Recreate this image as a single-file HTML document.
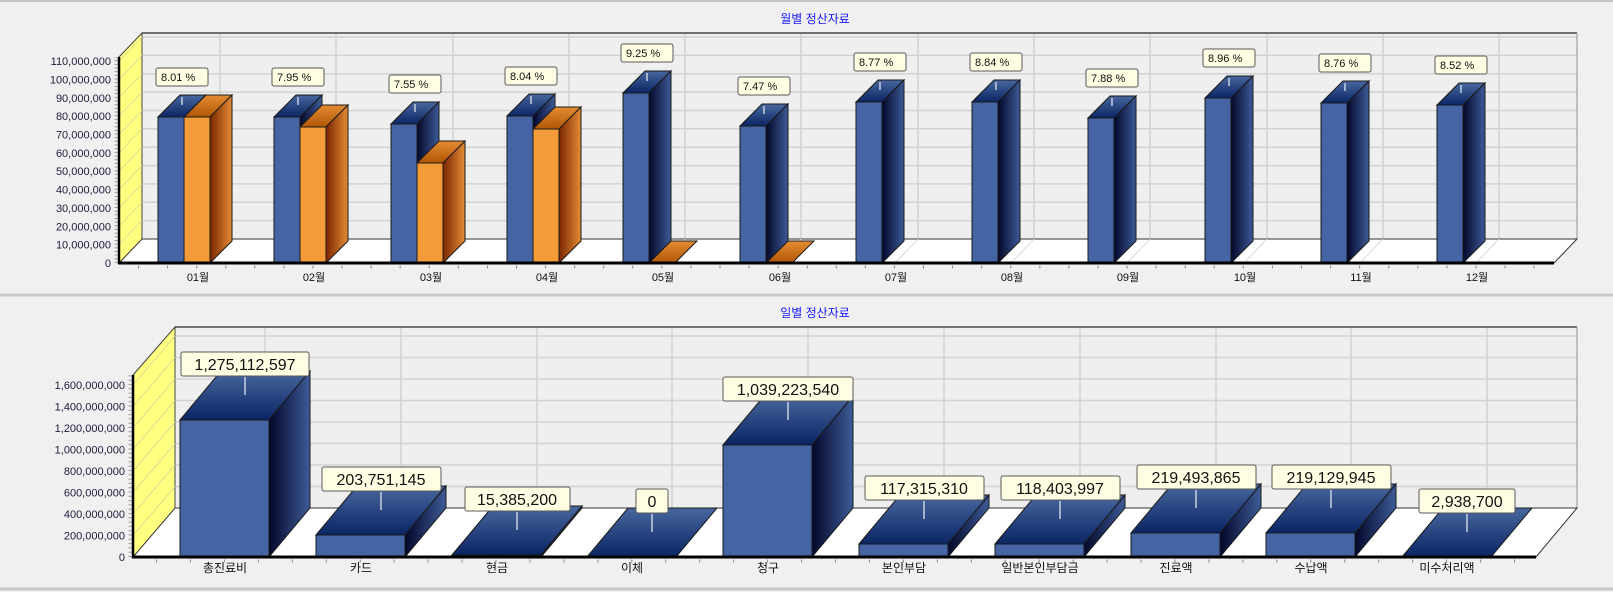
<!DOCTYPE html>
<html><head><meta charset="utf-8"><style>
html,body{margin:0;padding:0;background:#f0f0f0;}
svg{display:block;font-family:"Liberation Sans","Noto Sans CJK KR",sans-serif;}
</style></head><body>
<svg width="1613" height="592" viewBox="0 0 1613 592" xmlns="http://www.w3.org/2000/svg">
<defs>
<linearGradient id="bt" x1="0" y1="0" x2="0" y2="1"><stop offset="0" stop-color="#48679f"/><stop offset="1" stop-color="#0a2564"/></linearGradient>
<linearGradient id="bs" x1="0" y1="0" x2="1" y2="0"><stop offset="0" stop-color="#04072a"/><stop offset="1" stop-color="#3d5b97"/></linearGradient>
<linearGradient id="ot" x1="0" y1="0" x2="0" y2="1"><stop offset="0" stop-color="#e48c32"/><stop offset="1" stop-color="#b05606"/></linearGradient>
<linearGradient id="os" x1="0" y1="0" x2="1" y2="0"><stop offset="0" stop-color="#7a2600"/><stop offset="1" stop-color="#e48c34"/></linearGradient>
</defs>
<rect width="1613" height="592" fill="#f0f0f0"/>
<line x1="0" y1="1" x2="1613" y2="1" stroke="#c4c4c4" stroke-width="2"/>
<line x1="0" y1="295" x2="1613" y2="295" stroke="#c8c8c8" stroke-width="3"/>
<line x1="0" y1="589" x2="1613" y2="589" stroke="#c8c8c8" stroke-width="3"/>

<!-- ============ TOP CHART ============ -->
<text x="815" y="23" font-size="12" fill="#1a1aff" text-anchor="middle">월별 정산자료</text>
<rect x="142" y="33" width="1435" height="206" fill="#efefef"/>
<g stroke="#d2d2d2" stroke-width="1.5">
<line x1="142" y1="220.6" x2="1577" y2="220.6"/><line x1="142" y1="202.3" x2="1577" y2="202.3"/><line x1="142" y1="183.9" x2="1577" y2="183.9"/><line x1="142" y1="165.6" x2="1577" y2="165.6"/><line x1="142" y1="147.2" x2="1577" y2="147.2"/><line x1="142" y1="128.8" x2="1577" y2="128.8"/><line x1="142" y1="110.5" x2="1577" y2="110.5"/><line x1="142" y1="92.1" x2="1577" y2="92.1"/><line x1="142" y1="73.8" x2="1577" y2="73.8"/><line x1="142" y1="55.4" x2="1577" y2="55.4"/><line x1="142" y1="37" x2="1577" y2="37"/>
<line x1="220" y1="33" x2="220" y2="239"/><line x1="336" y1="33" x2="336" y2="239"/><line x1="453" y1="33" x2="453" y2="239"/><line x1="569" y1="33" x2="569" y2="239"/><line x1="685" y1="33" x2="685" y2="239"/><line x1="801" y1="33" x2="801" y2="239"/><line x1="918" y1="33" x2="918" y2="239"/><line x1="1034" y1="33" x2="1034" y2="239"/><line x1="1150" y1="33" x2="1150" y2="239"/><line x1="1267" y1="33" x2="1267" y2="239"/><line x1="1383" y1="33" x2="1383" y2="239"/><line x1="1499" y1="33" x2="1499" y2="239"/>
</g>
<line x1="142" y1="33" x2="1577" y2="33" stroke="#707070" stroke-width="2"/>
<line x1="1577" y1="33" x2="1577" y2="239" stroke="#909090" stroke-width="1"/>
<polygon points="119,263 142,239 1577,239 1554,263" fill="#ffffff" stroke="#333" stroke-width="1"/>
<g stroke="#dcdcdc" stroke-width="1"><line x1="220" y1="239" x2="197" y2="263"/><line x1="336" y1="239" x2="313" y2="263"/><line x1="453" y1="239" x2="430" y2="263"/><line x1="569" y1="239" x2="546" y2="263"/><line x1="685" y1="239" x2="662" y2="263"/><line x1="801" y1="239" x2="778" y2="263"/><line x1="918" y1="239" x2="895" y2="263"/><line x1="1034" y1="239" x2="1011" y2="263"/><line x1="1150" y1="239" x2="1127" y2="263"/><line x1="1267" y1="239" x2="1244" y2="263"/><line x1="1383" y1="239" x2="1360" y2="263"/><line x1="1499" y1="239" x2="1476" y2="263"/></g>
<polygon points="119,263 119,57 142,33 142,239" fill="#ffff80" stroke="#444" stroke-width="1"/>
<g stroke="#e0dc90" stroke-width="1">
<line x1="119" y1="244.6" x2="142" y2="220.6"/><line x1="119" y1="226.3" x2="142" y2="202.3"/><line x1="119" y1="207.9" x2="142" y2="183.9"/><line x1="119" y1="189.6" x2="142" y2="165.6"/><line x1="119" y1="171.2" x2="142" y2="147.2"/><line x1="119" y1="152.8" x2="142" y2="128.8"/><line x1="119" y1="134.5" x2="142" y2="110.5"/><line x1="119" y1="116.1" x2="142" y2="92.1"/><line x1="119" y1="97.8" x2="142" y2="73.8"/><line x1="119" y1="79.4" x2="142" y2="55.4"/><line x1="119" y1="61" x2="142" y2="37"/>
</g>
<g font-size="11" fill="#1c1c3c" text-anchor="end">
<text x="111" y="267">0</text><text x="111" y="248.6">10,000,000</text><text x="111" y="230.3">20,000,000</text><text x="111" y="211.9">30,000,000</text><text x="111" y="193.6">40,000,000</text><text x="111" y="175.2">50,000,000</text><text x="111" y="156.8">60,000,000</text><text x="111" y="138.5">70,000,000</text><text x="111" y="120.1">80,000,000</text><text x="111" y="101.8">90,000,000</text><text x="111" y="83.4">100,000,000</text><text x="111" y="65">110,000,000</text>
</g>
<line x1="116" y1="263" x2="116" y2="57" stroke="#999" stroke-width="3" stroke-dasharray="1 2.67"/>

<g stroke="#1a1a1a" stroke-width="1">
<!-- m1 -->
<rect x="158" y="117" width="26" height="146" fill="#4464a3"/><polygon points="158,117 180,95 206,95 184,117" fill="url(#bt)"/><polygon points="184,117 206,95 206,241 184,263" fill="url(#bs)"/>
<rect x="184" y="117" width="26" height="146" fill="#f39b38"/><polygon points="184,117 206,95 232,95 210,117" fill="url(#ot)"/><polygon points="210,117 232,95 232,241 210,263" fill="url(#os)"/>
<!-- m2 -->
<rect x="274" y="117" width="26" height="146" fill="#4464a3"/><polygon points="274,117 296,95 322,95 300,117" fill="url(#bt)"/><polygon points="300,117 322,95 322,241 300,263" fill="url(#bs)"/>
<rect x="300" y="127" width="26" height="136" fill="#f39b38"/><polygon points="300,127 322,105 348,105 326,127" fill="url(#ot)"/><polygon points="326,127 348,105 348,241 326,263" fill="url(#os)"/>
<!-- m3 -->
<rect x="391" y="124" width="26" height="139" fill="#4464a3"/><polygon points="391,124 413,102 439,102 417,124" fill="url(#bt)"/><polygon points="417,124 439,102 439,241 417,263" fill="url(#bs)"/>
<rect x="417" y="163" width="26" height="100" fill="#f39b38"/><polygon points="417,163 439,141 465,141 443,163" fill="url(#ot)"/><polygon points="443,163 465,141 465,241 443,263" fill="url(#os)"/>
<!-- m4 -->
<rect x="507" y="116" width="26" height="147" fill="#4464a3"/><polygon points="507,116 529,94 555,94 533,116" fill="url(#bt)"/><polygon points="533,116 555,94 555,241 533,263" fill="url(#bs)"/>
<rect x="533" y="129" width="26" height="134" fill="#f39b38"/><polygon points="533,129 555,107 581,107 559,129" fill="url(#ot)"/><polygon points="559,129 581,107 581,241 559,263" fill="url(#os)"/>
<!-- m5 -->
<rect x="623" y="93" width="26" height="170" fill="#4464a3"/><polygon points="623,93 645,71 671,71 649,93" fill="url(#bt)"/><polygon points="649,93 671,71 671,241 649,263" fill="url(#bs)"/>
<polygon points="649,263 671,241 697,241 675,263" fill="url(#ot)"/>
<!-- m6 -->
<rect x="740" y="126" width="26" height="137" fill="#4464a3"/><polygon points="740,126 762,104 788,104 766,126" fill="url(#bt)"/><polygon points="766,126 788,104 788,241 766,263" fill="url(#bs)"/>
<polygon points="766,263 788,241 814,241 792,263" fill="url(#ot)"/>
<!-- m7 -->
<rect x="856" y="102" width="26" height="161" fill="#4464a3"/><polygon points="856,102 878,80 904,80 882,102" fill="url(#bt)"/><polygon points="882,102 904,80 904,241 882,263" fill="url(#bs)"/>
<!-- m8 -->
<rect x="972" y="102" width="26" height="161" fill="#4464a3"/><polygon points="972,102 994,80 1020,80 998,102" fill="url(#bt)"/><polygon points="998,102 1020,80 1020,241 998,263" fill="url(#bs)"/>
<!-- m9 -->
<rect x="1088" y="118" width="26" height="145" fill="#4464a3"/><polygon points="1088,118 1110,96 1136,96 1114,118" fill="url(#bt)"/><polygon points="1114,118 1136,96 1136,241 1114,263" fill="url(#bs)"/>
<!-- m10 -->
<rect x="1205" y="98" width="26" height="165" fill="#4464a3"/><polygon points="1205,98 1227,76 1253,76 1231,98" fill="url(#bt)"/><polygon points="1231,98 1253,76 1253,241 1231,263" fill="url(#bs)"/>
<!-- m11 -->
<rect x="1321" y="103" width="26" height="160" fill="#4464a3"/><polygon points="1321,103 1343,81 1369,81 1347,103" fill="url(#bt)"/><polygon points="1347,103 1369,81 1369,241 1347,263" fill="url(#bs)"/>
<!-- m12 -->
<rect x="1437" y="105" width="26" height="158" fill="#4464a3"/><polygon points="1437,105 1459,83 1485,83 1463,105" fill="url(#bt)"/><polygon points="1463,105 1485,83 1485,241 1463,263" fill="url(#bs)"/>
</g>

<g stroke="#c8d0e0" stroke-width="1.5">
<line x1="182" y1="97" x2="182" y2="105"/><line x1="298" y1="97" x2="298" y2="105"/><line x1="415" y1="104" x2="415" y2="112"/><line x1="531" y1="96" x2="531" y2="104"/><line x1="647" y1="73" x2="647" y2="81"/><line x1="764" y1="106" x2="764" y2="114"/><line x1="880" y1="82" x2="880" y2="90"/><line x1="996" y1="82" x2="996" y2="90"/><line x1="1112" y1="98" x2="1112" y2="106"/><line x1="1229" y1="78" x2="1229" y2="86"/><line x1="1345" y1="83" x2="1345" y2="91"/><line x1="1461" y1="85" x2="1461" y2="93"/>
</g>
<g fill="#fffee2" stroke="#5a5a5a" stroke-width="1">
<rect x="156" y="68" width="52" height="18" rx="2"/><rect x="272" y="68" width="52" height="18" rx="2"/><rect x="389" y="75" width="52" height="18" rx="2"/><rect x="505" y="67" width="52" height="18" rx="2"/><rect x="621" y="44" width="52" height="18" rx="2"/><rect x="738" y="77" width="52" height="18" rx="2"/><rect x="854" y="53" width="52" height="18" rx="2"/><rect x="970" y="53" width="52" height="18" rx="2"/><rect x="1086" y="69" width="52" height="18" rx="2"/><rect x="1203" y="49" width="52" height="18" rx="2"/><rect x="1319" y="54" width="52" height="18" rx="2"/><rect x="1435" y="56" width="52" height="18" rx="2"/>
</g>
<g font-size="11" fill="#111">
<text x="161" y="81">8.01 %</text><text x="277" y="81">7.95 %</text><text x="394" y="88">7.55 %</text><text x="510" y="80">8.04 %</text><text x="626" y="57">9.25 %</text><text x="743" y="90">7.47 %</text><text x="859" y="66">8.77 %</text><text x="975" y="66">8.84 %</text><text x="1091" y="82">7.88 %</text><text x="1208" y="62">8.96 %</text><text x="1324" y="67">8.76 %</text><text x="1440" y="69">8.52 %</text>
</g>
<line x1="119" y1="57" x2="119" y2="264" stroke="#000" stroke-width="2.5"/>
<line x1="118" y1="263" x2="1554" y2="263" stroke="#000" stroke-width="3"/>
<line x1="138" y1="267" x2="1554" y2="267" stroke="#888" stroke-width="3" stroke-dasharray="1 28.075"/>
<g font-size="11" fill="#111" text-anchor="middle">
<text x="198" y="281">01월</text><text x="314" y="281">02월</text><text x="431" y="281">03월</text><text x="547" y="281">04월</text><text x="663" y="281">05월</text><text x="780" y="281">06월</text><text x="896" y="281">07월</text><text x="1012" y="281">08월</text><text x="1128" y="281">09월</text><text x="1245" y="281">10월</text><text x="1361" y="281">11월</text><text x="1477" y="281">12월</text>
</g>

<!-- ============ BOTTOM CHART ============ -->
<text x="815" y="317" font-size="12" fill="#1a1aff" text-anchor="middle">일별 정산자료</text>
<rect x="175" y="327" width="1402" height="181" fill="#efefef"/>
<g stroke="#d2d2d2" stroke-width="1.5">
<line x1="175" y1="486.5" x2="1577" y2="486.5"/><line x1="175" y1="465" x2="1577" y2="465"/><line x1="175" y1="443.5" x2="1577" y2="443.5"/><line x1="175" y1="422" x2="1577" y2="422"/><line x1="175" y1="400.5" x2="1577" y2="400.5"/><line x1="175" y1="379" x2="1577" y2="379"/><line x1="175" y1="357.5" x2="1577" y2="357.5"/><line x1="175" y1="336" x2="1577" y2="336"/>
<line x1="265" y1="327" x2="265" y2="508"/><line x1="401" y1="327" x2="401" y2="508"/><line x1="537" y1="327" x2="537" y2="508"/><line x1="672" y1="327" x2="672" y2="508"/><line x1="808" y1="327" x2="808" y2="508"/><line x1="944" y1="327" x2="944" y2="508"/><line x1="1080" y1="327" x2="1080" y2="508"/><line x1="1216" y1="327" x2="1216" y2="508"/><line x1="1351" y1="327" x2="1351" y2="508"/><line x1="1487" y1="327" x2="1487" y2="508"/>
</g>
<line x1="175" y1="327" x2="1577" y2="327" stroke="#707070" stroke-width="2"/>
<line x1="1577" y1="327" x2="1577" y2="508" stroke="#909090" stroke-width="1"/>
<polygon points="133,557 175,508 1577,508 1536,557" fill="#ffffff" stroke="#333" stroke-width="1"/>
<polygon points="133,557 133,375 175,327 175,508" fill="#ffff80" stroke="#444" stroke-width="1"/>
<g stroke="#e0dc90" stroke-width="1">
<line x1="133" y1="535.5" x2="175" y2="486.5"/><line x1="133" y1="514" x2="175" y2="465"/><line x1="133" y1="492.5" x2="175" y2="443.5"/><line x1="133" y1="471" x2="175" y2="422"/><line x1="133" y1="449.5" x2="175" y2="400.5"/><line x1="133" y1="428" x2="175" y2="379"/><line x1="133" y1="406.5" x2="175" y2="357.5"/><line x1="133" y1="385" x2="175" y2="336"/>
</g>
<g font-size="11" fill="#1c1c3c" text-anchor="end">
<text x="125" y="561">0</text><text x="125" y="539.5">200,000,000</text><text x="125" y="518">400,000,000</text><text x="125" y="496.5">600,000,000</text><text x="125" y="475">800,000,000</text><text x="125" y="453.5">1,000,000,000</text><text x="125" y="432">1,200,000,000</text><text x="125" y="410.5">1,400,000,000</text><text x="125" y="389">1,600,000,000</text>
</g>
<line x1="130" y1="557" x2="130" y2="375" stroke="#999" stroke-width="3" stroke-dasharray="1 3.3"/>

<g stroke="#1a1a1a" stroke-width="1">
<rect x="180" y="420" width="89" height="137" fill="#4464a3"/><polygon points="180,420 221,371 310,371 269,420" fill="url(#bt)"/><polygon points="269,420 310,371 310,508 269,557" fill="url(#bs)"/>
<rect x="316" y="535" width="89" height="22" fill="#4464a3"/><polygon points="316,535 357,486 446,486 405,535" fill="url(#bt)"/><polygon points="405,535 446,486 446,508 405,557" fill="url(#bs)"/>
<rect x="452" y="555" width="89" height="2" fill="#4464a3"/><polygon points="452,555 493,506 582,506 541,555" fill="url(#bt)"/><polygon points="541,555 582,506 582,508 541,557" fill="url(#bs)"/>
<polygon points="587,557 628,508 717,508 676,557" fill="url(#bt)"/>
<rect x="723" y="445" width="89" height="112" fill="#4464a3"/><polygon points="723,445 764,396 853,396 812,445" fill="url(#bt)"/><polygon points="812,445 853,396 853,508 812,557" fill="url(#bs)"/>
<rect x="859" y="544" width="89" height="13" fill="#4464a3"/><polygon points="859,544 900,495 989,495 948,544" fill="url(#bt)"/><polygon points="948,544 989,495 989,508 948,557" fill="url(#bs)"/>
<rect x="995" y="544" width="89" height="13" fill="#4464a3"/><polygon points="995,544 1036,495 1125,495 1084,544" fill="url(#bt)"/><polygon points="1084,544 1125,495 1125,508 1084,557" fill="url(#bs)"/>
<rect x="1131" y="533" width="89" height="24" fill="#4464a3"/><polygon points="1131,533 1172,484 1261,484 1220,533" fill="url(#bt)"/><polygon points="1220,533 1261,484 1261,508 1220,557" fill="url(#bs)"/>
<rect x="1266" y="533" width="89" height="24" fill="#4464a3"/><polygon points="1266,533 1307,484 1396,484 1355,533" fill="url(#bt)"/><polygon points="1355,533 1396,484 1396,508 1355,557" fill="url(#bs)"/>
<polygon points="1402,557 1443,508 1532,508 1491,557" fill="url(#bt)"/>
</g>
<g stroke="#c8d0e0" stroke-width="1.5">
<line x1="245" y1="377" x2="245" y2="395"/><line x1="381" y1="492" x2="381" y2="510"/><line x1="517" y1="512" x2="517" y2="530"/><line x1="652" y1="514" x2="652" y2="532"/><line x1="788" y1="402" x2="788" y2="420"/><line x1="924" y1="501" x2="924" y2="519"/><line x1="1060" y1="501" x2="1060" y2="519"/><line x1="1196" y1="490" x2="1196" y2="508"/><line x1="1331" y1="490" x2="1331" y2="508"/><line x1="1467" y1="514" x2="1467" y2="532"/>
</g>
<g fill="#fffee2" stroke="#5a5a5a" stroke-width="1">
<rect x="181" y="352" width="128" height="24" rx="2"/><rect x="322" y="467" width="119" height="24" rx="2"/><rect x="465" y="487" width="105" height="24" rx="2"/><rect x="636" y="489" width="32" height="24" rx="2"/><rect x="723" y="377" width="130" height="24" rx="2"/><rect x="865" y="476" width="119" height="24" rx="2"/><rect x="1001" y="476" width="119" height="24" rx="2"/><rect x="1137" y="465" width="119" height="24" rx="2"/><rect x="1272" y="465" width="119" height="24" rx="2"/><rect x="1419" y="489" width="96" height="24" rx="2"/>
</g>
<g font-size="16" fill="#111" text-anchor="middle">
<text x="245" y="370">1,275,112,597</text><text x="381" y="485">203,751,145</text><text x="517" y="505">15,385,200</text><text x="652" y="507">0</text><text x="788" y="395">1,039,223,540</text><text x="924" y="494">117,315,310</text><text x="1060" y="494">118,403,997</text><text x="1196" y="483">219,493,865</text><text x="1331" y="483">219,129,945</text><text x="1467" y="507">2,938,700</text>
</g>
<line x1="133" y1="375" x2="133" y2="558" stroke="#000" stroke-width="2.5"/>
<line x1="132" y1="557" x2="1536" y2="557" stroke="#000" stroke-width="3"/>
<line x1="156" y1="561" x2="1536" y2="561" stroke="#888" stroke-width="3" stroke-dasharray="1 32.95"/>
<g font-size="12" fill="#111" text-anchor="middle">
<text x="225" y="572">총진료비</text><text x="361" y="572">카드</text><text x="497" y="572">현금</text><text x="632" y="572">이체</text><text x="768" y="572">청구</text><text x="904" y="572">본인부담</text><text x="1040" y="572">일반본인부담금</text><text x="1176" y="572">진료액</text><text x="1311" y="572">수납액</text><text x="1447" y="572">미수처리액</text>
</g>
</svg>
</body></html>
